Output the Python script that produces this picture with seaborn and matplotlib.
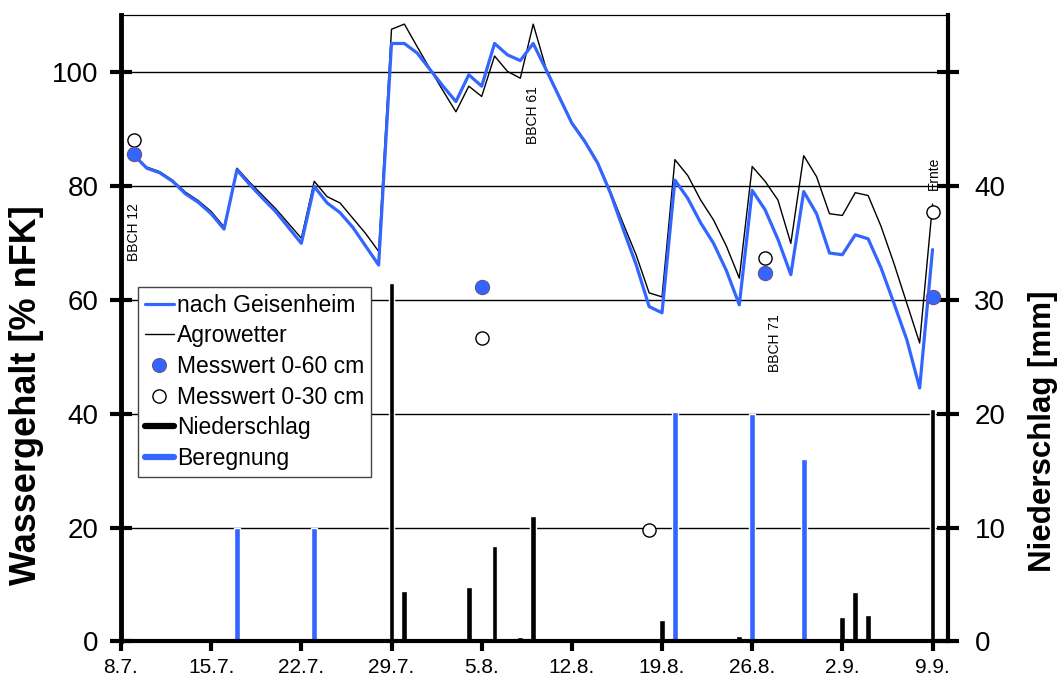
import numpy as np
import pandas as pd
import matplotlib
matplotlib.use("Agg")
import matplotlib.pyplot as plt
from matplotlib.lines import Line2D
import seaborn as sns

# ---------------- data ----------------
# day index 0 = 8.7.
days = list(range(1, 64))
geisenheim = [85.4, 83.1, 82.3, 80.8, 78.6, 77.1, 75.1, 72.4, 82.8, 80.2,
              77.8, 75.5, 72.7, 69.9, 79.9, 77.0, 75.3, 72.7, 69.4, 66.1,
              105.0, 105.0, 103.3, 100.4, 97.5, 94.8, 99.5, 97.5, 105.0, 103.0,
              102.0, 105.0, 100.4, 95.7, 91.0, 87.8, 84.0, 78.7, 72.3, 66.1,
              58.8, 57.7, 81.0, 77.8, 73.5, 69.9, 65.1, 59.1, 79.2, 75.8,
              70.6, 64.4, 79.0, 75.1, 68.2, 67.9, 71.4, 70.7, 65.6, 59.4,
              53.0, 44.5, 68.8]
agrowetter = [85.4, 83.3, 82.5, 81.0, 78.9, 77.4, 75.5, 72.8, 83.1, 80.6,
              78.3, 76.0, 73.4, 70.8, 80.8, 78.1, 77.0, 74.3, 71.6, 68.5,
              107.5, 108.4, 104.4, 100.5, 96.7, 93.0, 97.5, 95.7, 102.8, 100.1,
              98.9, 108.4, 100.6, 95.9, 91.2, 88.0, 84.2, 79.0, 73.3, 67.8,
              61.2, 60.5, 84.6, 81.8, 77.5, 74.0, 69.4, 63.8, 83.4, 80.8,
              77.5, 69.9, 85.3, 81.6, 75.1, 74.8, 78.8, 78.3, 72.9, 66.4,
              59.4, 52.4, 76.8]

mess60_days = [1, 28, 50, 63]
mess60_vals = [85.6, 62.3, 64.7, 60.5]
mess30_days = [1, 28, 41, 50, 63]
mess30_vals = [88.1, 53.3, 19.6, 67.4, 75.4]

rain_days = [17, 21, 22, 27, 29, 31, 32, 42, 48, 56, 57, 58, 63]
rain_mm = [0.2, 31.5, 4.4, 4.8, 8.4, 0.4, 11.0, 1.9, 0.5, 2.1, 4.3, 2.3, 20.4]
irr_days = [9, 15, 43, 49, 53]
irr_mm = [10.0, 10.0, 20.1, 20.0, 16.0]

xtick_days = [0, 7, 14, 21, 28, 35, 42, 49, 56, 63]
xtick_labels = ["8.7.", "15.7.", "22.7.", "29.7.", "5.8.", "12.8.", "19.8.",
                "26.8.", "2.9.", "9.9."]

notes = ["BBCH 12", "BBCH 61", "BBCH 71", "Ernte"]
note_days = [1.0, 32.0, 50.8, 63.1]
note_vals = [71.9, 92.5, 52.4, 82.2]

BLUE = "#3366FF"

# ---------------- style ----------------
sns.set_theme(style="white")
plt.rcParams["font.family"] = ["Liberation Sans", "DejaVu Sans"]
plt.rcParams["text.color"] = "black"

fig = plt.figure(figsize=(10.57, 6.77), dpi=100)
ax = fig.add_axes([0.11447, 0.05258, 0.78240, 0.92526])
ax2 = ax.twinx()

# bars on secondary axis (behind)
ax2.bar(rain_days, rain_mm, width=0.45, color="black", zorder=3)
ax2.bar(irr_days, irr_mm, width=0.45, color=BLUE, zorder=3)
ax2.set_ylim(0, 55)
ax2.set_yticks([0, 10, 20, 30, 40, 50])
ax2.set_yticklabels(["0", "10", "20", "30", "40", ""])
ax2.grid(axis="y", color="black", linewidth=1.0)
ax2.set_axisbelow(True)
ax2.tick_params(axis="y", direction="inout", length=16, width=3, labelsize=20,
                pad=11, colors="black", right=True)
for s in ["left", "top", "bottom"]:
    ax2.spines[s].set_visible(False)
ax2.spines["right"].set_linewidth(3)
ax2.spines["right"].set_color("black")
ax2.set_ylabel("")

# lines & points on primary axis (front)
ax.set_zorder(ax2.get_zorder() + 1)
ax.patch.set_visible(False)

df = pd.DataFrame({"day": days, "geis": geisenheim, "agro": agrowetter})
sns.lineplot(data=df, x="day", y="agro", ax=ax, color="black", linewidth=1.0,
             zorder=4)
sns.lineplot(data=df, x="day", y="geis", ax=ax, color=BLUE, linewidth=2.3,
             zorder=5)
sns.scatterplot(x=mess30_days, y=mess30_vals, ax=ax, s=90, facecolor="white",
                edgecolor="black", linewidth=1.0, zorder=6)
sns.scatterplot(x=mess60_days, y=mess60_vals, ax=ax, s=105, color=BLUE,
                edgecolor="#6a4f8f", linewidth=0.8, zorder=7)

ax.set_xlim(0, 64.2)
ax.set_ylim(0, 110)
ax.set_yticks([0, 20, 40, 60, 80, 100])
ax.set_xticks(xtick_days)
ax.set_xticklabels(xtick_labels)
ax.tick_params(axis="y", direction="inout", length=16, width=3, labelsize=20,
               pad=8, colors="black", left=True)
ax.tick_params(axis="x", direction="out", length=7, width=3, labelsize=15,
               pad=5, colors="black", bottom=True)
ax.set_xlabel("")
ax.set_ylabel("")
ax.grid(False)
ax.spines["left"].set_linewidth(3.5)
ax.spines["bottom"].set_linewidth(3)
ax.spines["top"].set_linewidth(0.9)
ax.spines["right"].set_visible(False)
for s in ["left", "bottom", "top"]:
    ax.spines[s].set_color("black")

for t, d, v in zip(notes, note_days, note_vals):
    ax.text(d, v, t, rotation=90, ha="center", va="center", fontsize=10,
            color="black", zorder=8)

fig.text(0.025, 0.4165, "Wassergehalt [% nFK]", rotation=90, ha="center",
         va="center", fontsize=26, fontweight="bold", color="black")
fig.text(0.987, 0.363, "Niederschlag [mm]", rotation=90, ha="center",
         va="center", fontsize=22.5, fontweight="bold", color="black")

handles = [
    Line2D([], [], color=BLUE, lw=2.3),
    Line2D([], [], color="black", lw=1.0),
    Line2D([], [], color=BLUE, marker="o", ls="", markersize=10,
           markeredgecolor="#6a4f8f", markeredgewidth=0.8),
    Line2D([], [], color="white", marker="o", ls="", markersize=9.5,
           markeredgecolor="black", markeredgewidth=1.0),
    Line2D([], [], color="black", lw=4.5),
    Line2D([], [], color=BLUE, lw=4.5),
]
labels = ["nach Geisenheim", "Agrowetter", "Messwert 0-60 cm",
          "Messwert 0-30 cm", "Niederschlag", "Beregnung"]
leg = ax.legend(handles, labels, loc="upper left",
                bbox_to_anchor=(138 / 1057, 1 - 287 / 677),
                bbox_transform=fig.transFigure, fontsize=16.5,
                frameon=True, fancybox=False, framealpha=1,
                edgecolor="#444444", borderaxespad=0, borderpad=0.3,
                labelspacing=0.33, handlelength=1.25, handletextpad=0.15,
                labelcolor="black")
leg.get_frame().set_linewidth(1.0)
leg.set_zorder(10)

fig.savefig("out.png", dpi=100, facecolor="white")
